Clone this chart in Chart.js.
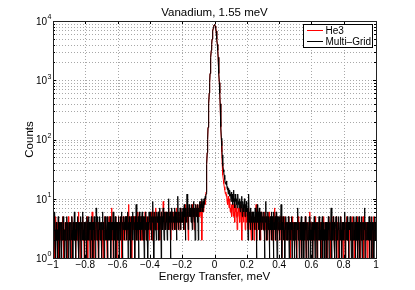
<!DOCTYPE html>
<html>
<head>
<meta charset="utf-8">
<script src="https://cdn.jsdelivr.net/npm/chart.js@4/dist/chart.umd.min.js"></script>
<style>
html,body{margin:0;padding:0;background:#fff;}
#wrap{width:415px;height:290px;position:relative;}
</style>
</head>
<body>
<div id="wrap"><canvas id="c" width="415" height="290"></canvas></div>
<script>
// ---- data ----
const chartTitle = 'Vanadium, 1.55 meV';
const xTitle = 'Energy Transfer, meV';
const yTitle = 'Counts';
const seriesNames = ['He3', 'Multi\u2013Grid'];
const energyStart = -1;
const energyStep = 0.0025;
const xTickValues = [-1, -0.8, -0.6, -0.4, -0.2, 0, 0.2, 0.4, 0.6, 0.8, 1];
const yDecades = [0, 1, 2, 3, 4];

const he3Counts = [
3,2,4,3,1,3,2,5,3,2,3,4,2,3,1,3,4,2,3,2,
4,3,2,3,5,2,3,1,3,2,4,3,3,2,4,1,3,2,5,3,
2,3,4,2,3,1,3,5,2,3,4,2,3,3,2,4,1,3,2,4,
3,2,3,6,2,3,4,1,3,2,3,4,2,5,3,2,3,1,4,3,
2,4,3,2,3,5,1,3,4,2,3,2,4,3,1,3,2,6,3,2,
3,1,4,3,2,3,4,2,5,3,2,3,1,4,3,2,4,3,2,3,
4,2,3,3,1,4,2,3,5,2,3,4,3,2,1,3,4,2,3,5,
2,3,4,2,3,7,3,2,4,1,3,3,2,4,3,5,2,3,1,4,
3,4,2,5,3,3,4,2,3,5,1,4,3,3,5,2,4,3,2,4,
4,3,5,2,3,4,3,8,2,4,3,2,5,3,4,1,3,4,3,5,
3,5,3,2,4,4,3,5,2,3,6,3,4,2,4,3,5,3,2,4,
4,3,2,5,4,3,4,2,6,3,4,3,5,2,4,3,4,5,3,2,
5,3,4,6,3,4,5,2,4,6,4,3,5,4,7,3,4,5,3,4,
4,6,3,5,4,2,5,4,6,3,5,4,3,9,4,5,3,4,6,4,
5,4,6,3,5,4,7,4,3,5,6,4,2,5,4,6,5,3,4,5,
6,4,5,3,6,5,4,7,5,4,3,6,5,4,6,3,5,7,4,5,
5,6,4,7,5,3,6,5,8,4,6,5,7,4,6,2,5,7,6,5,
6,5,7,4,6,8,5,6,7,5,3,6,7,5,8,6,5,7,6,8,
6,5,7,8,5,6,9,7,6,2,8,7,9,6,8,10,9,8,11,13,
23,38,60,100,160,254,400,610,910,1300,1810,2440,3190,4030,4940,5880,6770,7550,8170,8560,
8700,8560,8170,7550,6770,5880,4940,4030,3190,2440,1810,1300,910,610,400,254,160,95,62,40,
30,25,21,18,16,15,14,12,13,11,12,9,10,8,11,9,7,8,10,6,
7,6,8,5,7,9,6,5,8,6,4,7,6,8,5,7,3,6,5,7,
6,5,7,4,6,8,5,6,2,7,5,6,4,7,5,6,3,5,7,4,
5,6,4,3,5,7,4,5,3,6,4,2,5,4,6,3,4,5,2,4,
4,5,3,8,4,2,5,4,6,3,5,4,3,5,2,4,6,3,4,5,
4,3,5,4,2,6,3,4,5,3,4,2,5,3,4,6,3,2,4,3,
3,5,4,2,4,3,5,3,4,7,2,4,3,5,3,4,2,5,3,4,
3,4,2,5,3,4,3,1,4,5,3,2,4,3,5,3,4,2,3,4,
3,2,4,3,5,2,3,4,1,3,4,2,3,5,3,2,4,3,2,3,
4,3,2,3,1,4,3,5,2,3,4,3,2,4,3,1,3,4,2,3,
3,2,4,3,2,5,3,1,3,4,2,3,3,2,4,3,6,2,3,2,
2,4,3,1,3,2,4,3,2,5,3,2,3,4,1,3,2,4,3,2,
3,2,4,3,2,1,3,4,2,3,5,2,3,1,4,3,2,3,4,1,
4,3,2,5,3,2,3,4,1,3,2,4,3,3,5,2,3,1,4,3,
2,3,5,2,4,3,1,3,4,2,3,2,4,5,3,2,3,4,2,1,
3,4,2,3,1,4,3,2,5,3,2,4,3,1,3,4,2,3,5,2,
4,2,3,5,2,3,1,4,3,2,4,3,2,3,5,1,3,4,2,3,
3,1,4,2,3,4,3,2,5,3,1,3,4,2,3,2,4,3,1,4,
2,3,4,1,3,5,2,3,4,2,3,1,4,3,2,5,3,2,4,3,
3
];

const multiGridCounts = [
2,4,1,3,6,2,3,1,4,2,3,3,1,5,2,4,2,1,3,4,
3,1,4,2,3,5,2,4,1,3,2,4,3,1,5,3,2,4,1,3,
4,2,3,1,4,3,2,5,3,1,4,2,3,6,2,3,1,4,3,2,
3,5,2,4,1,3,4,2,5,3,1,4,3,2,6,3,2,4,1,3,
2,4,3,1,5,4,2,3,5,2,4,3,1,4,3,5,2,4,3,1,
4,3,5,2,4,1,3,7,4,2,3,5,3,1,4,3,5,2,4,3,
1,4,3,6,2,3,4,1,3,5,2,4,3,2,5,1,3,4,2,4,
3,2,5,1,4,3,2,4,3,6,1,3,4,2,5,3,1,4,3,2,
4,2,5,3,1,4,3,5,2,4,6,3,1,4,3,5,4,2,3,5,
3,5,2,4,3,6,1,4,3,5,2,4,3,1,5,4,3,6,2,4,
5,3,4,1,5,3,8,4,2,4,3,5,1,4,6,3,4,2,5,3,
4,6,3,2,5,4,1,5,3,4,6,2,4,3,5,1,4,3,6,4,
5,3,6,4,2,5,4,9,3,5,1,4,6,3,5,4,2,6,4,5,
4,6,2,5,7,3,4,5,1,6,4,5,3,7,4,2,5,6,4,3,
6,4,5,2,6,4,10,3,5,4,6,1,5,4,7,3,5,6,4,5,
5,7,3,6,4,5,2,6,4,11,5,3,6,4,5,7,3,5,4,6,
6,4,7,5,3,8,5,6,2,7,4,6,12,5,7,3,6,8,5,7,
5,7,4,8,6,3,7,5,9,6,4,7,2,6,8,5,7,6,4,8,
2,7,6,9,7,8,6,9,7,10,8,6,9,7,10,8,9,11,10,12,
22,38,60,100,160,254,400,610,910,1300,1810,2440,3190,4030,4940,5880,6770,7550,8170,8560,
8700,8560,8170,7550,6770,5880,4940,4030,3190,2440,1810,1300,910,610,400,254,165,105,78,55,
42,36,31,28,25,22,21,18,19,17,20,15,14,16,12,15,13,11,14,12,
11,9,13,10,12,8,11,14,9,10,7,12,9,11,8,10,7,9,12,8,
9,7,10,8,6,9,7,11,8,5,9,7,8,6,10,7,5,8,6,9,
6,7,5,2,6,12,4,6,5,3,7,5,4,6,2,5,6,4,5,3,
5,7,4,6,1,5,8,4,6,3,5,7,2,6,4,5,3,6,4,5,
5,3,6,4,1,5,4,9,3,5,2,4,6,3,5,4,1,4,5,3,
4,6,2,5,3,4,1,6,4,3,5,2,4,6,3,1,5,4,3,5,
4,2,5,3,4,8,3,1,4,3,5,2,4,3,1,4,3,5,2,4,
3,4,2,5,3,1,4,3,2,4,3,5,1,3,4,2,3,4,1,3,
2,4,3,1,4,3,7,2,3,4,1,3,4,2,3,5,1,3,4,2,
4,1,3,4,2,5,3,1,4,3,2,4,3,1,3,5,2,3,1,4,
3,2,4,1,3,4,2,5,3,1,4,3,2,4,1,3,4,2,3,5,
2,4,3,1,4,2,3,5,1,3,4,2,3,1,4,3,2,4,1,3,
4,2,5,3,1,4,3,2,4,7,1,3,4,2,3,5,2,4,1,3,
3,5,1,4,3,2,4,3,5,1,3,4,2,5,3,1,4,3,2,4,
2,4,3,6,1,3,4,2,3,5,2,4,1,3,4,3,5,2,4,1,
4,3,1,4,2,5,3,2,4,1,3,5,2,4,3,1,4,2,5,3,
1,3,4,2,5,3,1,4,3,2,4,3,7,1,3,4,2,3,4,2,
3,4,2,5,1,3,4,2,3,5,1,4,3,2,4,1,3,5,2,4,
2
];

if (he3Counts.length !== 801 || multiGridCounts.length !== 801) {
  throw new Error('length mismatch ' + he3Counts.length + ' ' + multiGridCounts.length);
}

// ---- build ----
const toPoints = arr => arr.map((v, i) => ({x: energyStart + i * energyStep, y: v}));
const FONT = 'Liberation Sans, Arial, Helvetica, sans-serif';
const minusFmt = v => {
  const r = Math.round(v * 10) / 10;
  return r === 0 ? '0' : String(r).replace('-', '\u2212');
};

const yTickVals = [];
yDecades.forEach(d => {
  if (d === yDecades[yDecades.length - 1]) { yTickVals.push(Math.pow(10, d)); return; }
  for (let m = 1; m <= 9; m++) yTickVals.push(m * Math.pow(10, d));
});

const matlabGrid = {
  id: 'matlabGrid',
  beforeDatasetsDraw(chart) {
    const {ctx, chartArea: a, scales: {x, y}} = chart;
    ctx.save();
    ctx.strokeStyle = '#a8a8a8';
    ctx.lineWidth = 1;
    ctx.setLineDash([1, 2]);
    ctx.beginPath();
    xTickValues.slice(1, -1).forEach(v => {
      const px = Math.round(x.getPixelForValue(v)) + 0.5;
      ctx.moveTo(px, a.bottom); ctx.lineTo(px, a.top);
    });
    yTickVals.slice(1, -1).forEach(v => {
      const py = Math.round(y.getPixelForValue(v)) + 0.5;
      ctx.moveTo(a.left, py); ctx.lineTo(a.right, py);
    });
    ctx.stroke();
    ctx.restore();
  }
};

const matlabAxes = {
  id: 'matlabAxes',
  afterDraw(chart) {
    const {ctx, chartArea: a, scales: {x, y}} = chart;
    ctx.save();
    ctx.strokeStyle = '#000';
    ctx.lineWidth = 1;
    ctx.beginPath();
    xTickValues.forEach(v => {
      const px = Math.round(x.getPixelForValue(v)) + 0.5;
      ctx.moveTo(px, a.bottom); ctx.lineTo(px, a.bottom - 3);
      ctx.moveTo(px, a.top); ctx.lineTo(px, a.top + 3);
    });
    yTickVals.forEach(v => {
      const py = Math.round(y.getPixelForValue(v)) + 0.5;
      const isMajor = Math.abs(Math.log10(v) - Math.round(Math.log10(v))) < 1e-9;
      const len = isMajor ? 3 : 2;
      ctx.moveTo(a.left, py); ctx.lineTo(a.left + len, py);
      ctx.moveTo(a.right, py); ctx.lineTo(a.right - len, py);
    });
    ctx.stroke();
    ctx.strokeStyle = '#222';
    ctx.strokeRect(Math.round(a.left) + 0.5, Math.round(a.top) + 0.5,
                   Math.round(a.right - a.left), Math.round(a.bottom - a.top));
    ctx.fillStyle = '#000';
    yDecades.forEach(d => {
      const py = y.getPixelForValue(Math.pow(10, d));
      ctx.font = '10px ' + FONT;
      ctx.textAlign = 'right';
      ctx.textBaseline = 'middle';
      ctx.fillText('10', a.left - 6, py + 1);
      ctx.font = '7px ' + FONT;
      ctx.textAlign = 'left';
      ctx.fillText(String(d), a.left - 5.5, py - 3.5);
    });
    const lx = 303, ly = 24, lw = 69, lh = 23;
    ctx.fillStyle = '#fff';
    ctx.fillRect(lx, ly, lw, lh);
    ctx.strokeStyle = '#000';
    ctx.strokeRect(lx + 0.5, ly + 0.5, lw, lh);
    const colors = ['#ff0000', '#000000'];
    [30.5, 41.5].forEach((yy, i) => {
      ctx.strokeStyle = colors[i];
      ctx.beginPath();
      ctx.moveTo(307, yy); ctx.lineTo(323, yy);
      ctx.stroke();
      ctx.fillStyle = '#000';
      ctx.font = '10px ' + FONT;
      ctx.textAlign = 'left';
      ctx.textBaseline = 'middle';
      ctx.fillText(seriesNames[i], 325.5, yy + 0.5);
    });
    ctx.restore();
  }
};

new Chart(document.getElementById('c'), {
  type: 'line',
  data: {
    datasets: [
      {label: seriesNames[0], data: toPoints(he3Counts), borderColor: '#ff0000', borderWidth: 1, pointRadius: 0, tension: 0, order: 2},
      {label: seriesNames[1], data: toPoints(multiGridCounts), borderColor: '#000000', borderWidth: 1, pointRadius: 0, tension: 0, order: 1}
    ]
  },
  options: {
    responsive: false,
    animation: false,
    events: [],
    layout: {padding: {top: 0, right: 39, bottom: 0, left: 0}},
    plugins: {
      legend: {display: false},
      tooltip: {enabled: false},
      title: {
        display: true, fullSize: false, text: chartTitle, color: '#000',
        font: {family: FONT, size: 11.5, weight: 'normal'},
        padding: {top: 6, bottom: 1.2}
      }
    },
    scales: {
      x: {
        type: 'linear', min: -1, max: 1,
        afterBuildTicks: s => { s.ticks = xTickValues.map(v => ({value: v})); },
        afterFit: s => { s.height = 32; },
        ticks: {callback: minusFmt, color: '#000', font: {family: FONT, size: 10}, padding: 1, maxRotation: 0, autoSkip: false},
        grid: {display: false, drawTicks: false},
        border: {display: false},
        title: {display: true, text: xTitle, color: '#000', font: {family: FONT, size: 11.5}, padding: {top: 0, bottom: 6}}
      },
      y: {
        type: 'logarithmic', min: 1, max: 10000,
        afterBuildTicks: s => { s.ticks = yTickVals.map(v => ({value: v})); },
        afterFit: s => { s.width = 53; },
        ticks: {display: false},
        grid: {display: false, drawTicks: false},
        border: {display: false},
        title: {display: true, text: yTitle, color: '#000', font: {family: FONT, size: 11.5}, padding: {top: 23, bottom: 0}}
      }
    }
  },
  plugins: [matlabGrid, matlabAxes]
});
</script>
</body>
</html>
